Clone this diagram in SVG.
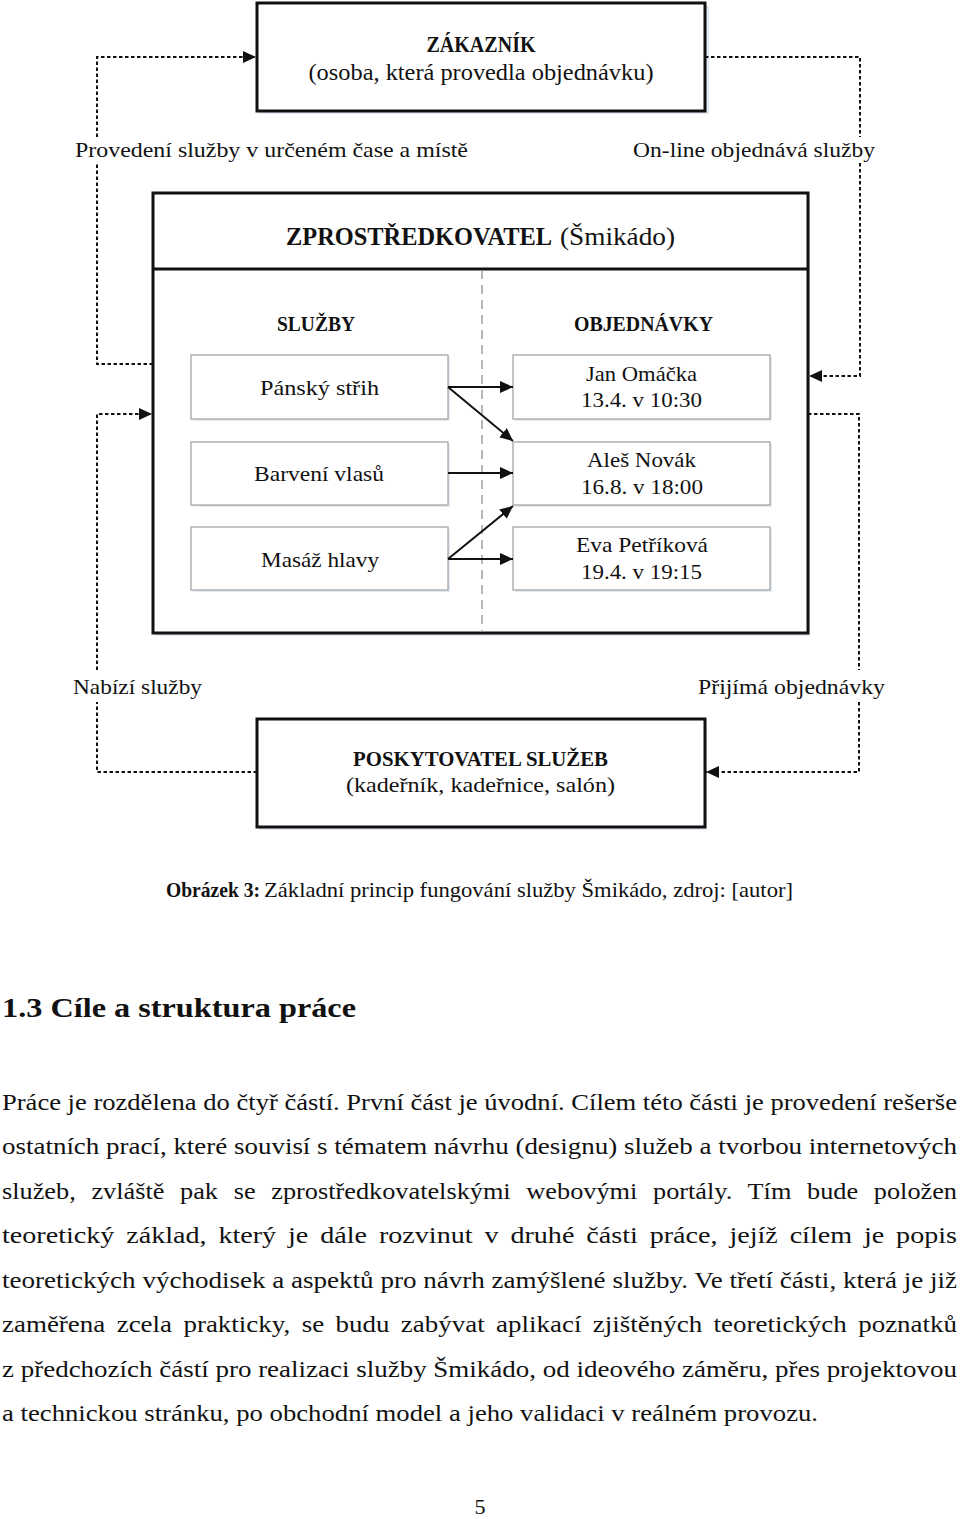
<svg xmlns="http://www.w3.org/2000/svg" width="960" height="1519" viewBox="0 0 960 1519">
<style>
text{font-family:"Liberation Serif","Times New Roman",serif;fill:#111}
.b{font-weight:bold}
.lbl{font-size:22px}
.box{fill:#fff;stroke:#111;stroke-width:3}
.ibox{fill:#fff;stroke:#a6a6a6;stroke-width:1.3}
.sh{fill:#e2eaf4}
.dot{fill:none;stroke:#111;stroke-width:2;stroke-dasharray:3.5 2.5}
.sol{fill:none;stroke:#111;stroke-width:2}
.body{font-size:23px}
</style>
<defs>
<marker id="ah" viewBox="0 0 13 12" refX="13" refY="6" markerWidth="13" markerHeight="12" markerUnits="userSpaceOnUse" orient="auto">
<path d="M0 0 L13 6 L0 12 z" fill="#111"/>
</marker>
</defs>
<rect width="960" height="1519" fill="#fff"/>

<g id="zakaznik">
<rect class="sh" x="259" y="6" width="450" height="108"/>
<rect class="box" x="257" y="3" width="448" height="108"/>
<text class="b" x="481" y="52" font-size="23" text-anchor="middle" textLength="109" lengthAdjust="spacingAndGlyphs">ZÁKAZNÍK</text>
<text x="481" y="80" font-size="23" text-anchor="middle" textLength="345" lengthAdjust="spacingAndGlyphs">(osoba, která provedla objednávku)</text>
</g>

<g id="zprostredkovatel">
<rect class="sh" x="155" y="196" width="655" height="440"/>
<rect class="box" x="153" y="193" width="655" height="440"/>
<line x1="153" y1="269" x2="808" y2="269" stroke="#111" stroke-width="3"/>
<line x1="482" y1="270" x2="482" y2="632" stroke="#a0a0a0" stroke-width="1.5" stroke-dasharray="9 6"/>
<text class="b" x="286" y="245" font-size="26" textLength="266" lengthAdjust="spacingAndGlyphs">ZPROSTŘEDKOVATEL</text>
<text x="560" y="245" font-size="26" textLength="115" lengthAdjust="spacingAndGlyphs">(Šmikádo)</text>
<text class="b" x="316" y="331" font-size="21" text-anchor="middle" textLength="78" lengthAdjust="spacingAndGlyphs">SLUŽBY</text>
<text class="b" x="643.5" y="331" font-size="21" text-anchor="middle" textLength="139" lengthAdjust="spacingAndGlyphs">OBJEDNÁVKY</text>
</g>

<g id="sluzba-pansky-strih">
<rect class="sh" x="193" y="357" width="257" height="64"/>
<rect class="ibox" x="191" y="355" width="257" height="64"/>
<text class="lbl" x="319.5" y="395" text-anchor="middle" textLength="119" lengthAdjust="spacingAndGlyphs">Pánský střih</text>
</g>
<g id="sluzba-barveni-vlasu">
<rect class="sh" x="193" y="444" width="257" height="63"/>
<rect class="ibox" x="191" y="442" width="257" height="63"/>
<text class="lbl" x="319" y="481" text-anchor="middle" textLength="130" lengthAdjust="spacingAndGlyphs">Barvení vlasů</text>
</g>
<g id="sluzba-masaz-hlavy">
<rect class="sh" x="193" y="529" width="257" height="63"/>
<rect class="ibox" x="191" y="527" width="257" height="63"/>
<text class="lbl" x="320" y="567" text-anchor="middle" textLength="118" lengthAdjust="spacingAndGlyphs">Masáž hlavy</text>
</g>

<g id="objednavka-jan">
<rect class="sh" x="515" y="357" width="257" height="64"/>
<rect class="ibox" x="513" y="355" width="257" height="64"/>
<text class="lbl" x="641.5" y="381" text-anchor="middle" textLength="111" lengthAdjust="spacingAndGlyphs">Jan Omáčka</text>
<text class="lbl" x="641.5" y="407" text-anchor="middle" textLength="121" lengthAdjust="spacingAndGlyphs">13.4. v 10:30</text>
</g>
<g id="objednavka-ales">
<rect class="sh" x="515" y="444" width="257" height="63"/>
<rect class="ibox" x="513" y="442" width="257" height="63"/>
<text class="lbl" x="641.5" y="467" text-anchor="middle" textLength="109" lengthAdjust="spacingAndGlyphs">Aleš Novák</text>
<text class="lbl" x="642" y="494" text-anchor="middle" textLength="122" lengthAdjust="spacingAndGlyphs">16.8. v 18:00</text>
</g>
<g id="objednavka-eva">
<rect class="sh" x="515" y="529" width="257" height="63"/>
<rect class="ibox" x="513" y="527" width="257" height="63"/>
<text class="lbl" x="642" y="552" text-anchor="middle" textLength="132" lengthAdjust="spacingAndGlyphs">Eva Petříková</text>
<text class="lbl" x="641.5" y="579" text-anchor="middle" textLength="121" lengthAdjust="spacingAndGlyphs">19.4. v 19:15</text>
</g>

<g id="poskytovatel">
<rect class="sh" x="259" y="722" width="448" height="108"/>
<rect class="box" x="257" y="719" width="448" height="108"/>
<text class="b" x="480.5" y="766" font-size="22" text-anchor="middle" textLength="255" lengthAdjust="spacingAndGlyphs">POSKYTOVATEL SLUŽEB</text>
<text x="480.5" y="792" font-size="22" text-anchor="middle" textLength="269" lengthAdjust="spacingAndGlyphs">(kadeřník, kadeřnice, salón)</text>
</g>

<g id="connectors">
<path class="dot" d="M153 364 H97 V163"/>
<path class="dot" d="M97 137 V57 H256" marker-end="url(#ah)"/>
<path class="dot" d="M705 57 H860 V137"/>
<path class="dot" d="M860 163 V376 H809" marker-end="url(#ah)"/>
<path class="dot" d="M257 772 H97 V702"/>
<path class="dot" d="M97 670 V414 H152" marker-end="url(#ah)"/>
<path class="dot" d="M808 414 H859 V670"/>
<path class="dot" d="M859 702 V772 H706" marker-end="url(#ah)"/>
<path class="sol" d="M448 387 H513" marker-end="url(#ah)"/>
<path class="sol" d="M448 387 L513 441" marker-end="url(#ah)"/>
<path class="sol" d="M448 473 H513" marker-end="url(#ah)"/>
<path class="sol" d="M448 559 L513 506" marker-end="url(#ah)"/>
<path class="sol" d="M448 559 H513" marker-end="url(#ah)"/>
</g>

<g id="labels">
<text class="lbl" x="75" y="157" textLength="393" lengthAdjust="spacingAndGlyphs">Provedení služby v určeném čase a místě</text>
<text class="lbl" x="633" y="157" textLength="242" lengthAdjust="spacingAndGlyphs">On-line objednává služby</text>
<text class="lbl" x="73" y="694" textLength="129" lengthAdjust="spacingAndGlyphs">Nabízí služby</text>
<text class="lbl" x="698" y="694" textLength="187" lengthAdjust="spacingAndGlyphs">Přijímá objednávky</text>
</g>

<g id="caption">
<text class="b" x="166" y="897" font-size="21" textLength="94" lengthAdjust="spacingAndGlyphs">Obrázek 3:</text>
<text x="264" y="897" font-size="21" textLength="529" lengthAdjust="spacingAndGlyphs">Základní princip fungování služby Šmikádo, zdroj: [autor]</text>
</g>

<g id="text">
<text class="b" x="2" y="1017" font-size="27" textLength="354" lengthAdjust="spacingAndGlyphs">1.3 Cíle a struktura práce</text>
<text class="body" x="2" y="1110" textLength="955" lengthAdjust="spacingAndGlyphs">Práce je rozdělena do čtyř částí. První část je úvodní. Cílem této části je provedení rešerše</text>
<text class="body" x="2" y="1154" textLength="955" lengthAdjust="spacingAndGlyphs">ostatních prací, které souvisí s tématem návrhu (designu) služeb a tvorbou internetových</text>
<text class="body" x="2" y="1199" textLength="955" lengthAdjust="spacingAndGlyphs" word-spacing="8">služeb, zvláště pak se zprostředkovatelskými webovými portály. Tím bude položen</text>
<text class="body" x="2" y="1243" textLength="955" lengthAdjust="spacingAndGlyphs" word-spacing="4">teoretický základ, který je dále rozvinut v druhé části práce, jejíž cílem je popis</text>
<text class="body" x="2" y="1288" textLength="955" lengthAdjust="spacingAndGlyphs">teoretických východisek a aspektů pro návrh zamýšlené služby. Ve třetí části, která je již</text>
<text class="body" x="2" y="1332" textLength="955" lengthAdjust="spacingAndGlyphs" word-spacing="4">zaměřena zcela prakticky, se budu zabývat aplikací zjištěných teoretických poznatků</text>
<text class="body" x="2" y="1377" textLength="955" lengthAdjust="spacingAndGlyphs">z předchozích částí pro realizaci služby Šmikádo, od ideového záměru, přes projektovou</text>
<text class="body" x="2" y="1421" textLength="816" lengthAdjust="spacingAndGlyphs">a technickou stránku, po obchodní model a jeho validaci v reálném provozu.</text>
<text x="480" y="1514" font-size="22" text-anchor="middle">5</text>
</g>
</svg>
